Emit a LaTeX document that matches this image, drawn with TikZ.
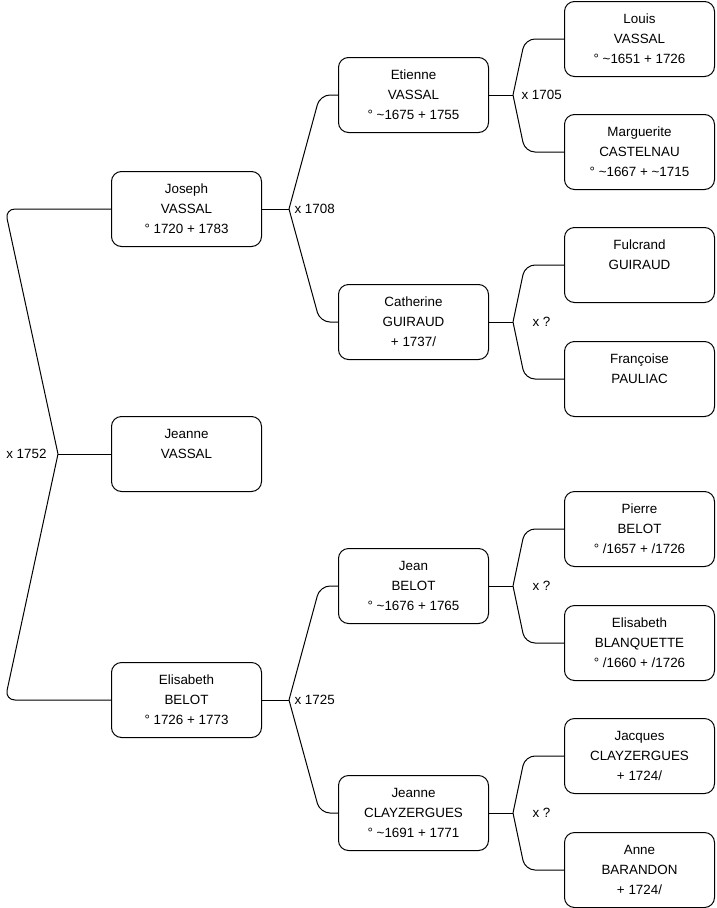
\documentclass[tikz,border=0pt]{standalone}
\usepackage{fontspec}
\setmainfont{Liberation Sans}
\usetikzlibrary{positioning,calc}

\begin{document}
\begin{tikzpicture}[x=1pt,y=-1pt,line width=1pt,
  person/.style={draw,rounded corners=10pt,anchor=north west,minimum width=150pt,minimum height=75pt,
    align=center,inner sep=0pt,font=\fontsize{13.4}{20}\selectfont},
  branch/.style={rounded corners=10pt},
  union/.style={inner sep=0pt,font=\fontsize{13.4}{14}\selectfont}]
\useasboundingbox (0,0) rectangle (716,908);

% generation 1
\node[person] (joseph) at (111,171) {Joseph\\VASSAL\\° 1720 + 1783};
\node[person] (jeanne) at (111,416) {Jeanne\\VASSAL\\\phantom{x}};
\node[person] (elisabeth) at (111,662) {Elisabeth\\BELOT\\° 1726 + 1773};

% generation 2
\node[person] (etienne) at (338,57) {Etienne\\VASSAL\\° \textasciitilde1675 + 1755};
\node[person] (catherine) at (338,284) {Catherine\\GUIRAUD\\+ 1737/};
\node[person] (jean) at (338,548) {Jean\\BELOT\\° \textasciitilde1676 + 1765};
\node[person] (jeannec) at (338,775) {Jeanne\\CLAYZERGUES\\° \textasciitilde1691 + 1771};

% generation 3
\node[person] (louis) at (564,1) {Louis\\VASSAL\\° \textasciitilde1651 + 1726};
\node[person] (marguerite) at (564,114) {Marguerite\\CASTELNAU\\° \textasciitilde1667 + \textasciitilde1715};
\node[person] (fulcrand) at (564,227) {Fulcrand\\GUIRAUD\\\phantom{x}};
\node[person] (francoise) at (564,341) {Françoise\\PAULIAC\\\phantom{x}};
\node[person] (pierre) at (564,491) {Pierre\\BELOT\\° /1657 + /1726};
\node[person] (elisabethb) at (564,605) {Elisabeth\\BLANQUETTE\\° /1660 + /1726};
\node[person] (jacques) at (564,718) {Jacques\\CLAYZERGUES\\+ 1724/};
\node[person] (anne) at (564,832) {Anne\\BARANDON\\+ 1724/};

% forks
\coordinate (f0) at ([xshift=-53pt]jeanne.west);
\coordinate (f1) at ([xshift=27pt]joseph.east);
\coordinate (f2) at ([xshift=27pt]elisabeth.east);
\coordinate (f3) at ([xshift=24pt]etienne.east);
\coordinate (f4) at ([xshift=24pt]catherine.east);
\coordinate (f5) at ([xshift=24pt]jean.east);
\coordinate (f6) at ([xshift=24pt]jeannec.east);

% links
\draw (jeanne.west) -- (f0);
\draw[branch] (f0) -- ([xshift=-106pt]joseph.west) -- (joseph.west);
\draw[branch] (f0) -- ([xshift=-106pt]elisabeth.west) -- (elisabeth.west);

\draw (joseph.east) -- (f1);
\draw[branch] (f1) -- ([xshift=-18pt]etienne.west) -- (etienne.west);
\draw[branch] (f1) -- ([xshift=-18pt]catherine.west) -- (catherine.west);
\draw (elisabeth.east) -- (f2);
\draw[branch] (f2) -- ([xshift=-18pt]jean.west) -- (jean.west);
\draw[branch] (f2) -- ([xshift=-18pt]jeannec.west) -- (jeannec.west);

\draw (etienne.east) -- (f3);
\draw[branch] (f3) -- ([xshift=-39pt]louis.west) -- (louis.west);
\draw[branch] (f3) -- ([xshift=-39pt]marguerite.west) -- (marguerite.west);
\draw (catherine.east) -- (f4);
\draw[branch] (f4) -- ([xshift=-39pt]fulcrand.west) -- (fulcrand.west);
\draw[branch] (f4) -- ([xshift=-39pt]francoise.west) -- (francoise.west);
\draw (jean.east) -- (f5);
\draw[branch] (f5) -- ([xshift=-39pt]pierre.west) -- (pierre.west);
\draw[branch] (f5) -- ([xshift=-39pt]elisabethb.west) -- (elisabethb.west);
\draw (jeannec.east) -- (f6);
\draw[branch] (f6) -- ([xshift=-39pt]jacques.west) -- (jacques.west);
\draw[branch] (f6) -- ([xshift=-39pt]anne.west) -- (anne.west);

% marriages
\node[union,left=11pt of f0] (m0) {x 1752};
\node[union,right=5pt of f1] (m1) {x 1708};
\node[union,right=5pt of f2] (m2) {x 1725};
\node[union,right=8pt of f3] (m3) {x 1705};
\node[union,right=19pt of f4] (m4) {x ?};
\node[union,right=19pt of f5] (m5) {x ?};
\node[union,right=19pt of f6] (m6) {x ?};
\end{tikzpicture}
\end{document}
